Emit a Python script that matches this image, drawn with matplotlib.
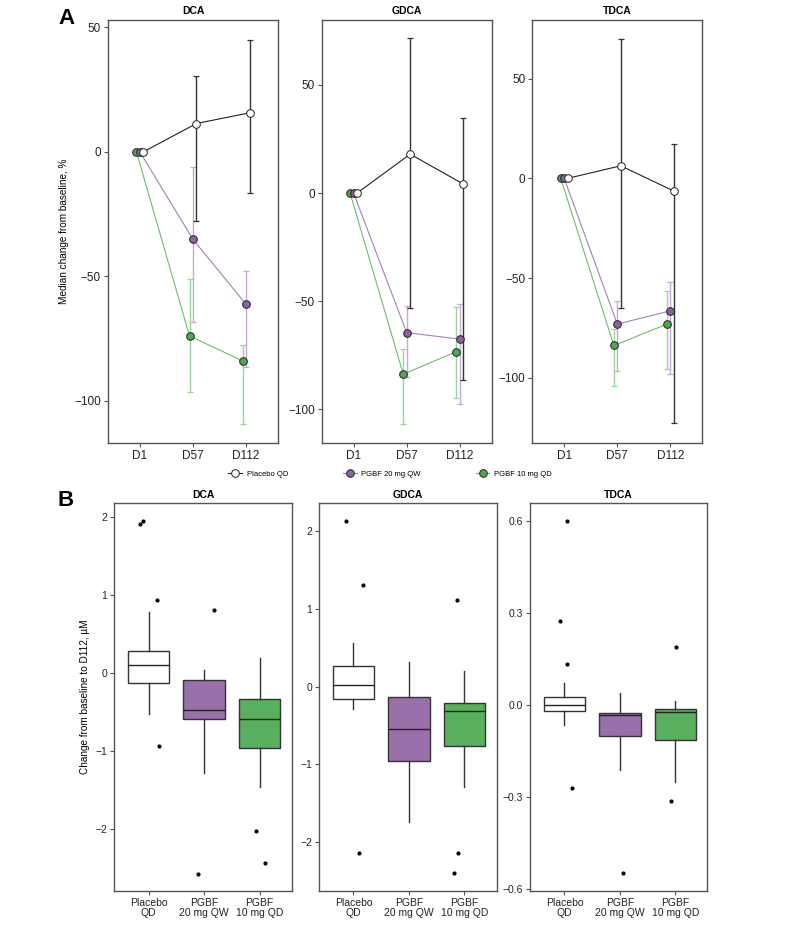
import numpy as np
import matplotlib
matplotlib.use("Agg")
import matplotlib.pyplot as plt
from matplotlib.lines import Line2D

plt.rcParams['font.family'] = ['Liberation Sans', 'DejaVu Sans']

acids = ['DCA', 'GDCA', 'TDCA']
groups = ['Placebo QD', 'PGBF 20 mg QW', 'PGBF 10 mg QD']
days = ['D1', 'D57', 'D112']

# Panel A: median % change from baseline, with lower / upper error bar ends
med = {
    'DCA':  [[0, 11.4, 15.7], [0, -35.2, -61.3], [0, -74.0, -84.0]],
    'GDCA': [[0, 18.0, 4.2], [0, -64.5, -67.5], [0, -83.7, -73.3]],
    'TDCA': [[0, 6.3, -6.4], [0, -73.1, -66.4], [0, -83.8, -73.1]],
}
err_lo = {
    'DCA':  [[0, -27.8, -16.6], [0, -68.3, -86.3], [0, -96.7, -109.4]],
    'GDCA': [[0, -53.2, -86.4], [0, -84.9, -97.5], [0, -106.5, -94.8]],
    'TDCA': [[0, -64.9, -122.9], [0, -96.7, -98.2], [0, -103.9, -95.8]],
}
err_hi = {
    'DCA':  [[0, 30.6, 45.0], [0, -5.9, -48.0], [0, -51.1, -77.6]],
    'GDCA': [[0, 71.5, 34.7], [0, -52.2, -51.2], [0, -72.2, -52.8]],
    'TDCA': [[0, 69.9, 17.1], [0, -61.6, -51.9], [0, -75.5, -56.4]],
}
ylims_a = {'DCA': (-117, 53), 'GDCA': (-115.5, 80), 'TDCA': (-132.7, 79.4)}

# Panel B: box stats (whisker low, q1, median, q3, whisker high) and outliers
box_labels = ['Placebo\nQD', 'PGBF\n20 mg QW', 'PGBF\n10 mg QD']
boxes = {
    'DCA':  [(-0.529, -0.123, 0.095, 0.282, 0.777),
             (-1.284, -0.584, -0.478, -0.085, 0.035),
             (-1.46, -0.955, -0.589, -0.333, 0.197)],
    'GDCA': [(-0.29, -0.163, 0.017, 0.27, 0.558),
             (-1.738, -0.961, -0.549, -0.129, 0.313),
             (-1.288, -0.768, -0.309, -0.215, 0.206)],
    'TDCA': [(-0.066, -0.018, 0.0, 0.027, 0.073),
             (-0.211, -0.1, -0.033, -0.026, 0.038),
             (-0.25, -0.114, -0.023, -0.012, 0.013)],
}
outliers = {
    'DCA':  [[1.91, 1.94, 0.93, -0.935], [0.80, -2.568], [-2.027, -2.43]],
    'GDCA': [[2.133, 1.313, -2.146], [], [1.12, -2.137, -2.403]],
    'TDCA': [[0.601, 0.275, 0.134, -0.271], [-0.548], [0.19, -0.314]],
}
outlier_jitter = {
    'DCA':  [[-0.15, -0.11, 0.15, 0.19], [0.17, -0.11], [-0.065, 0.09]],
    'GDCA': [[-0.14, 0.18, 0.10], [], [-0.14, -0.11, -0.19]],
    'TDCA': [[0.04, -0.085, 0.04, 0.14], [0.055], [0.01, -0.07]],
}
ylims_b = {'DCA': (-2.79, 2.17), 'GDCA': (-2.63, 2.36), 'TDCA': (-0.606, 0.658)}
yticks_b = {'DCA': [-2, -1, 0, 1, 2], 'GDCA': [-2, -1, 0, 1, 2],
            'TDCA': [-0.6, -0.3, 0.0, 0.3, 0.6]}

marker_fc = ['white', '#8c62a3', '#4fa654']
line_c = ['#222222', '#a57fba', '#6cbd70']
err_c = ['#333333', '#c7a8d6', '#9bd49d']
box_fc = ['white', '#9a70ab', '#5aaf5f']
dodge = [0.065, 0.0, -0.065]

W, H = 787, 927
fig = plt.figure(figsize=(W / 100, H / 100), dpi=100)

def style(ax, size):
    for s in ax.spines.values():
        s.set_color('#555555')
        s.set_linewidth(1.0)
    ax.tick_params(direction='out', length=3, width=0.8, color='#555555',
                   labelsize=size, pad=2, labelcolor='#222222')

# ---- Panel A
top_x = [108, 321.7, 532.3]
for i, acid in enumerate(acids):
    ax = fig.add_axes([top_x[i] / W, 1 - 443 / H, 170 / W, 423 / H])
    x = np.arange(1, 4)
    for g in [2, 1, 0]:
        xs = x + dodge[g]
        m = np.array(med[acid][g])
        lo = m - np.array(err_lo[acid][g])
        hi = np.array(err_hi[acid][g]) - m
        ax.errorbar(xs[1:], m[1:], yerr=[lo[1:], hi[1:]], fmt='none',
                    ecolor=err_c[g], elinewidth=1.0, capsize=2.5,
                    capthick=0.9, zorder=2)
        ax.plot(xs, m, '-', color=line_c[g], lw=0.8, zorder=3)
        ax.plot(xs, m, 'o', ms=5.5, mfc=marker_fc[g], mec='#222222',
                mew=0.7, zorder=4)
    ax.set_xlim(0.4, 3.6)
    ax.set_ylim(*ylims_a[acid])
    ax.set_xticks(x)
    ax.set_xticklabels(days)
    ax.set_yticks([-100, -50, 0, 50])
    ax.set_yticklabels(['\u2212100', '\u221250', '0', '50'])
    ax.set_title(acid, fontsize=7.5, fontweight='bold', pad=4)
    style(ax, 8.5)
    if i == 0:
        ax.set_ylabel('Median change from baseline, %', fontsize=7.2)

leg_handles = [Line2D([], [], color=line_c[g], lw=0.8, marker='o', ms=5.5,
                      mfc=marker_fc[g], mec='#222222', mew=0.7)
               for g in range(3)]
fig.legend(leg_handles, groups, loc='center', ncol=3, frameon=False,
           fontsize=5.5, bbox_to_anchor=(390 / W, 1 - 474 / H),
           columnspacing=7.2, handlelength=1.8, handletextpad=0.6)

# ---- Panel B
bot_x = [114.3, 319, 530]
for i, acid in enumerate(acids):
    ax = fig.add_axes([bot_x[i] / W, 1 - 891 / H, 177.5 / W, 387.7 / H])
    stats = []
    for g in range(3):
        wl, q1, md, q3, wh = boxes[acid][g]
        stats.append(dict(whislo=wl, q1=q1, med=md, q3=q3, whishi=wh,
                          fliers=[], label=box_labels[g]))
    bp = ax.bxp(stats, positions=[1, 2, 3], widths=0.75, patch_artist=True,
                showfliers=False, showcaps=False,
                medianprops=dict(color='#222222', lw=1.0),
                whiskerprops=dict(color='#333333', lw=1.0),
                boxprops=dict(edgecolor='#333333', lw=1.0))
    for g, patch in enumerate(bp['boxes']):
        patch.set_facecolor(box_fc[g])
    for g in range(3):
        ys = outliers[acid][g]
        if ys:
            xs = np.full(len(ys), g + 1.0) + np.array(outlier_jitter[acid][g])
            ax.plot(xs, ys, 'o', ms=2, color='black', zorder=5)
    ax.set_xlim(0.38, 3.58)
    ax.set_ylim(*ylims_b[acid])
    ax.set_yticks(yticks_b[acid])
    if acid == 'TDCA':
        ax.set_yticklabels(['\u22120.6', '\u22120.3', '0.0', '0.3', '0.6'])
    else:
        ax.set_yticklabels(['\u22122', '\u22121', '0', '1', '2'])
    ax.set_xticks([1, 2, 3])
    ax.set_xticklabels(box_labels, linespacing=1.0)
    ax.set_title(acid, fontsize=7.5, fontweight='bold', pad=4)
    style(ax, 7.5)
    if i == 0:
        ax.set_ylabel('Change from baseline to D112, \u00b5M', fontsize=7.2)

fig.text(58 / W, 1 - 18 / H, 'A', fontsize=16, fontweight='bold', va='center')
fig.text(58 / W, 1 - 500 / H, 'B', fontsize=16, fontweight='bold', va='center')

fig.savefig('out.png', dpi=100)
